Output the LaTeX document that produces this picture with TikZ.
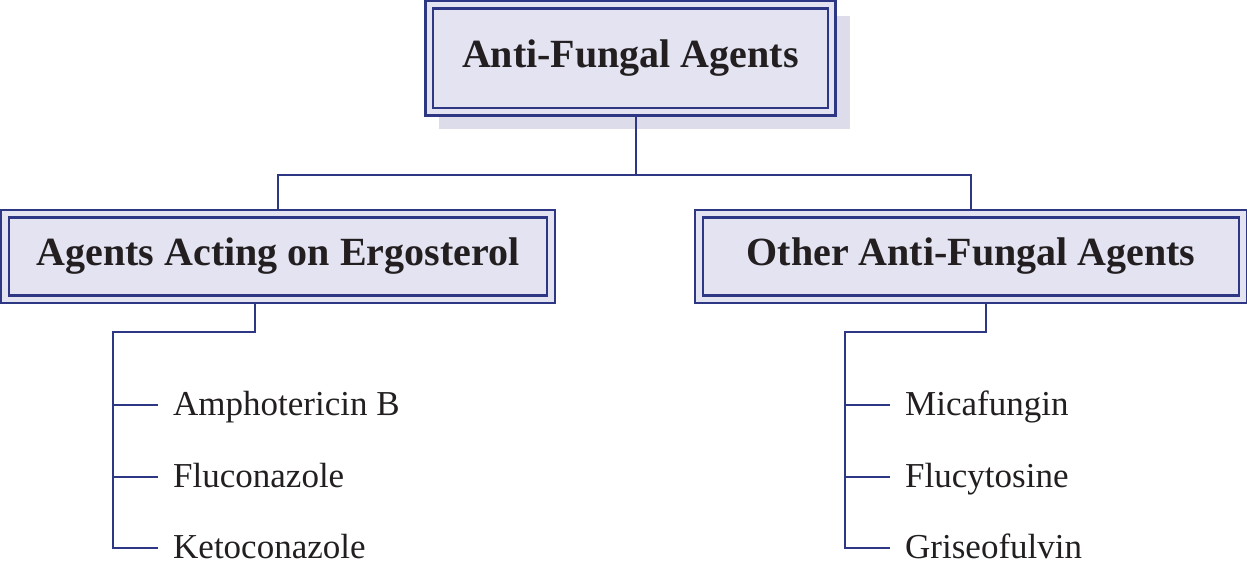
\documentclass[tikz,border=0pt]{standalone}
\usepackage{fontspec}
\setmainfont{Liberation Serif}
\usetikzlibrary{calc,backgrounds}

\definecolor{navy}{HTML}{2E3784}
\definecolor{boxfill}{HTML}{E3E3F2}
\definecolor{shadowcol}{HTML}{DCDCEA}
\definecolor{ink}{HTML}{231F20}

\tikzset{
  headbox/.style={draw=navy, line width=2.3pt, double=boxfill, double distance=5.2pt,
    fill=boxfill, inner sep=0pt, outer sep=0pt, text=ink,
    font=\fontsize{40}{44}\selectfont\bfseries},
  link/.style={draw=navy, line width=2.3pt},
  item/.style={anchor=west, inner xsep=15pt, inner ysep=0pt, text=ink,
    text height=24pt, text depth=4pt,
    font=\fontsize{35}{40}\selectfont},
}

\begin{document}
\begin{tikzpicture}[x=1pt, y=-1pt]
  \useasboundingbox (0,0) rectangle (1247,576);

  % main heading and the two groups
  \node[headbox, minimum width=402.4pt, minimum height=107pt] (top) at (630.4,58.3) {Anti-Fungal Agents};
  \node[headbox, minimum width=546pt, minimum height=85.5pt] (ergo) at (278,256.5) {Agents Acting on Ergosterol};
  \node[headbox, minimum width=544pt, minimum height=85.5pt] (other) at (971,256.5) {Other Anti-Fungal Agents};

  % drug lists
  \node[item] (amph) at (158,405) {Amphotericin B};
  \node[item] (fluc) at (158,477) {Fluconazole};
  \node[item] (keto) at (158,548) {Ketoconazole};
  \node[item] (mica) at (890,405) {Micafungin};
  \node[item] (flucy) at (890,477) {Flucytosine};
  \node[item] (gris) at (890,548) {Griseofulvin};

  \coordinate (railL) at (113,332);
  \coordinate (railR) at (845,332);

  \begin{pgfonlayer}{background}
    % drop shadow behind the heading
    \fill[shadowcol] ($(top.north west)+(10,11)$) rectangle ($(top.south east)+(18.4,17.2)$);

    % heading to groups
    \coordinate (hub) at ($(top.south)+(5.6,0)$);
    \draw[link] (hub) -- (hub |- 0,175) coordinate (bar);
    \draw[link] (ergo.north) |- (bar) -| (other.north);

    % left list
    \coordinate (dropL) at ($(ergo.south)+(-23,0)$);
    \draw[link] (dropL) |- (railL) |- (keto.west);
    \draw[link] (railL |- amph.west) -- (amph.west);
    \draw[link] (railL |- fluc.west) -- (fluc.west);

    % right list
    \coordinate (dropR) at ($(other.south)+(15,0)$);
    \draw[link] (dropR) |- (railR) |- (gris.west);
    \draw[link] (railR |- mica.west) -- (mica.west);
    \draw[link] (railR |- flucy.west) -- (flucy.west);
  \end{pgfonlayer}
\end{tikzpicture}
\end{document}
